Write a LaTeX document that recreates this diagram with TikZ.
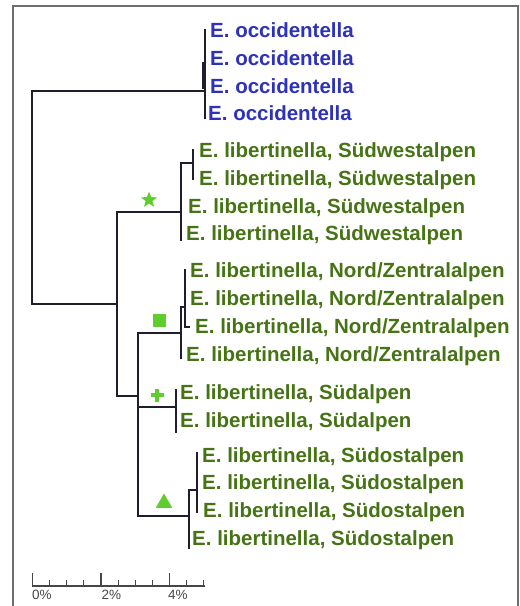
\documentclass[tikz,border=0pt]{standalone}
\usepackage{fontspec}
\setmainfont{Liberation Sans}
\usetikzlibrary{shapes.geometric}
\definecolor{occ}{RGB}{45,50,185}
\definecolor{lib}{RGB}{70,115,20}
\definecolor{markgreen}{RGB}{95,205,45}
\definecolor{branchcol}{RGB}{30,30,45}
\definecolor{framecol}{RGB}{110,110,110}
\definecolor{scalecol}{RGB}{70,70,70}
\begin{document}
\begin{tikzpicture}[x=1pt,y=-1pt,
  branch/.style={draw=branchcol,line width=1.5pt,line cap=rect},
  occlabel/.style={anchor=base west,inner sep=0pt,text=occ,font=\fontsize{20.5}{24}\selectfont\bfseries},
  liblabel/.style={anchor=base west,inner sep=0pt,text=lib,font=\fontsize{20.5}{24}\selectfont\bfseries},
  scalelabel/.style={anchor=north west,inner sep=0pt,text=scalecol,font=\fontsize{13.5}{16}\selectfont},
  marker/.style={fill=markgreen,draw=none,inner sep=0pt}]
\useasboundingbox (0,0) rectangle (520,606);
% frame
\coordinate (fbl) at (13,606);
\coordinate (ftl) at (13,6);
\coordinate (ftr) at (518,6);
\coordinate (fbr) at (518,606);
\draw[framecol,line width=1.3pt] (fbl) -- (ftl) -- (ftr) -- (fbr);

% labels
\node[occlabel] (o1) at (210,37.5) {E. occidentella};
\node[occlabel] (o2) at (210,65.5) {E. occidentella};
\node[occlabel] (o3) at (210,93.5) {E. occidentella};
\node[occlabel] (o4) at (208,120.5) {E. occidentella};
\node[liblabel] (sw1) at (199,157.5) {E. libertinella, Südwestalpen};
\node[liblabel] (sw2) at (199,185.5) {E. libertinella, Südwestalpen};
\node[liblabel] (sw3) at (188,213.5) {E. libertinella, Südwestalpen};
\node[liblabel] (sw4) at (186,240.5) {E. libertinella, Südwestalpen};
\node[liblabel] (nz1) at (190,277.5) {E. libertinella, Nord/Zentralalpen};
\node[liblabel] (nz2) at (190,305.5) {E. libertinella, Nord/Zentralalpen};
\node[liblabel] (nz3) at (195,333.5) {E. libertinella, Nord/Zentralalpen};
\node[liblabel] (nz4) at (186,361.5) {E. libertinella, Nord/Zentralalpen};
\node[liblabel] (s1) at (180,399.5) {E. libertinella, Südalpen};
\node[liblabel] (s2) at (180,427.5) {E. libertinella, Südalpen};
\node[liblabel] (so1) at (202,462.5) {E. libertinella, Südostalpen};
\node[liblabel] (so2) at (202,489.5) {E. libertinella, Südostalpen};
\node[liblabel] (so3) at (203,517.5) {E. libertinella, Südostalpen};
\node[liblabel] (so4) at (192,545.5) {E. libertinella, Südostalpen};

% tree coordinates
\coordinate (rt) at (32,91);
\coordinate (rb) at (32,304);
\coordinate (oj) at (205,91);
\coordinate (ot) at (205,30);
\coordinate (ob) at (205,118);
\coordinate (oit) at (203,63);
\coordinate (oib) at (203,88);
\coordinate (lj) at (117,304);
\coordinate (lt) at (117,212);
\coordinate (lb) at (117,396);
\coordinate (swj) at (181,212);
\coordinate (swt) at (181,163);
\coordinate (swb) at (181,240);
\coordinate (swij) at (193,163);
\coordinate (swit) at (193,150);
\coordinate (swib) at (193,179);
\coordinate (mj) at (138,396);
\coordinate (mt) at (138,333);
\coordinate (mb) at (138,516);
\coordinate (nzj) at (181,333);
\coordinate (nzt) at (181,307);
\coordinate (nzb) at (181,358);
\coordinate (nzij) at (185,307);
\coordinate (nzit) at (185,270);
\coordinate (nzib) at (185,327);
\coordinate (nzh) at (189,327);
\coordinate (sj0) at (138,407);
\coordinate (sj) at (176,407);
\coordinate (st) at (176,390);
\coordinate (sb) at (176,432);
\coordinate (soj) at (189,516);
\coordinate (sot) at (189,490);
\coordinate (sob) at (189,548);
\coordinate (soij) at (197,490);
\coordinate (soit) at (197,453);
\coordinate (soib) at (197,512);

\draw[branch] (rt) -- (rb);
\draw[branch] (rt) -- (oj);
\draw[branch] (ot) -- (ob);
\draw[branch] (oit) -- (oib);
\draw[branch] (rb) -- (lj);
\draw[branch] (lt) -- (lb);
\draw[branch] (lt) -- (swj);
\draw[branch] (swt) -- (swb);
\draw[branch] (swt) -- (swij);
\draw[branch] (swit) -- (swib);
\draw[branch] (lb) -- (mj);
\draw[branch] (mt) -- (mb);
\draw[branch] (mt) -- (nzj);
\draw[branch] (nzt) -- (nzb);
\draw[branch] (nzt) -- (nzij);
\draw[branch] (nzit) -- (nzib) -- (nzh);
\draw[branch] (sj0) -- (sj);
\draw[branch] (st) -- (sb);
\draw[branch] (mb) -- (soj);
\draw[branch] (sot) -- (sob);
\draw[branch] (sot) -- (soij);
\draw[branch] (soit) -- (soib);

% markers
\node[marker,star,star points=5,star point ratio=2.4,minimum size=17pt] (mstar) at (149,200) {};
\node[marker,rectangle,minimum size=13pt] (msq) at (159,320) {};
\coordinate (mplus) at (157,395);
\fill[markgreen] ([xshift=-6.5pt,yshift=2.3pt]mplus) rectangle ([xshift=6.5pt,yshift=-2.3pt]mplus);
\fill[markgreen] ([xshift=-2.3pt,yshift=6.5pt]mplus) rectangle ([xshift=2.3pt,yshift=-6.5pt]mplus);
\node[marker,regular polygon,regular polygon sides=3,minimum size=19pt] (mtri) at (164,503) {};

% scale bar
\coordinate (s0) at (32,586);
\coordinate (s4e) at (205,586);
\draw[scalecol,line width=1.3pt] (s0) -- (s4e);
\foreach \i in {0,1,...,10} {
  \pgfmathsetmacro{\xx}{32.7+17.08*\i}
  \coordinate (tk\i) at (\xx,586);
}
\foreach \i in {0,4,8} {
  \draw[scalecol,line width=1.3pt] (tk\i) -- ++(0,-13);
}
\foreach \i in {1,2,3,5,6,7,9,10} {
  \draw[scalecol,line width=1.1pt] (tk\i) -- ++(0,-6);
}
\node[scalelabel] (l0) at (32,590) {0\%};
\node[scalelabel] (l2) at (101.5,590) {2\%};
\node[scalelabel] (l4) at (168,590) {4\%};
\end{tikzpicture}
\end{document}
